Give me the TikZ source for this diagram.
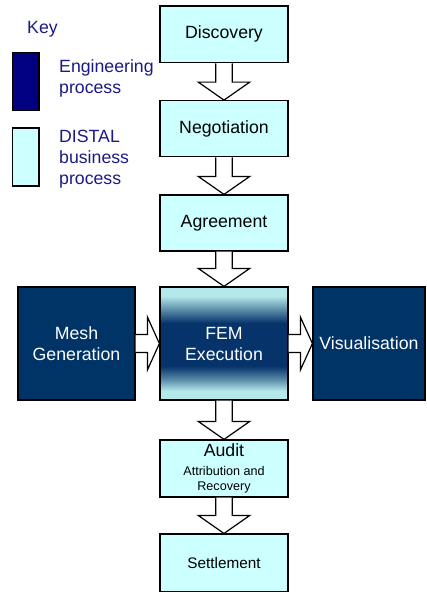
\documentclass[tikz,border=0pt]{standalone}
\usepackage{fontspec}
\setmainfont{Liberation Sans}
\usetikzlibrary{calc}

\definecolor{paleCyan}{HTML}{CCFFFF}
\definecolor{deepBlue}{HTML}{003366}
\definecolor{keyNavy}{HTML}{000080}
\definecolor{keyText}{HTML}{1A1A86}
\definecolor{femLight}{HTML}{B4E8EA}
\definecolor{femMid}{HTML}{5A8CA8}
\definecolor{femDark}{HTML}{06336A}

% light - dark - light band across the execution box (path spans 25bp..75bp)
\pgfdeclareverticalshading{femband}{100bp}{%
  color(0bp)=(femLight); color(25bp)=(femLight); color(29bp)=(femLight);
  color(34bp)=(femMid); color(40bp)=(femDark); color(59bp)=(femDark);
  color(65bp)=(femMid); color(71bp)=(femLight); color(75bp)=(femLight);
  color(100bp)=(femLight)}

\newcommand\mainsize{\fontsize{17.7}{21}\selectfont}

% block arrow pointing down from the first node to the second
\newcommand\blockdown[2]{%
  \draw[blockarrow] ($(#1.south)+(-8.25,0)$) -- ($(#2.north)+(-8.25,-18)$)
    -- ($(#2.north)+(-25.75,-18)$) -- (#2.north)
    -- ($(#2.north)+(25.75,-18)$) -- ($(#2.north)+(8.25,-18)$)
    -- ($(#1.south)+(8.25,0)$);}
% block arrow pointing right from the first node to the second
\newcommand\blockright[2]{%
  \draw[blockarrow] ($(#1.east)+(0,-9)$) -- ($(#2.west)+(-12,-9)$)
    -- ($(#2.west)+(-12,-26.5)$) -- (#2.west)
    -- ($(#2.west)+(-12,26.5)$) -- ($(#2.west)+(-12,9)$)
    -- ($(#1.east)+(0,9)$);}

\tikzset{
  procbox/.style={draw=black, line width=1.2pt, fill=paleCyan, minimum width=128pt,
    inner sep=0pt, align=center, font=\mainsize, text=black},
  engbox/.style={draw=black, line width=1.2pt, fill=deepBlue, inner sep=0pt,
    align=center, font=\mainsize, text=white, minimum height=113pt},
  blockarrow/.style={draw=black, line width=1.2pt, fill=white, line join=miter},
  keyswatch/.style={draw=black, line width=1.2pt, minimum width=26.3pt, inner sep=0pt},
  keylabel/.style={anchor=west, inner sep=0pt, align=left, text=keyText, font=\mainsize}
}

\begin{document}
\begin{tikzpicture}[x=1pt, y=-1pt]
\useasboundingbox (0,0) rectangle (426,592);

% key
\node[keylabel] (keytitle) at (27,29) {Key};
\node[keyswatch, fill=keyNavy, minimum height=58pt] (keyeng) at (25.85,81.7) {};
\node[keyswatch, fill=paleCyan, minimum height=58pt] (keybiz) at (25.85,157) {};
\node[keylabel] (keyengtext) at (59,78.5) {Engineering\\process};
\node[keylabel] (keybiztext) at (59,159) {DISTAL\\business\\process};

% business process chain
\node[procbox, minimum height=56.7pt] (disc) at (224,34.3) {Discovery};
\node[procbox, minimum height=56pt] (nego) at (224,128.7) {Negotiation};
\node[procbox, minimum height=56pt] (agree) at (224,223) {Agreement};
\node[procbox, minimum height=113pt, draw=black, fill=none, text=white,
      shading=femband] (fem) at (224,343.5) {FEM\\Execution};
\node[engbox, minimum width=117pt] (mesh) at (76.5,343.5) {Mesh\\Generation};
\node[engbox, minimum width=112pt] (vis) at (369,343.5) {Visualisation};
\node[procbox, minimum height=57pt, font=\fontsize{12.6}{15.3}\selectfont]
  (audit) at (224,468.5)
  {{\fontsize{17.7}{18}\selectfont Audit}\\[2.9pt]Attribution and\\Recovery};
\node[procbox, minimum height=57.5pt, font=\fontsize{15.3}{18}\selectfont]
  (settle) at (224,562.8) {Settlement};

% connectors
\blockdown{disc}{nego}
\blockdown{nego}{agree}
\blockdown{agree}{fem}
\blockdown{fem}{audit}
\blockdown{audit}{settle}
\blockright{mesh}{fem}
\blockright{fem}{vis}
\end{tikzpicture}
\end{document}
